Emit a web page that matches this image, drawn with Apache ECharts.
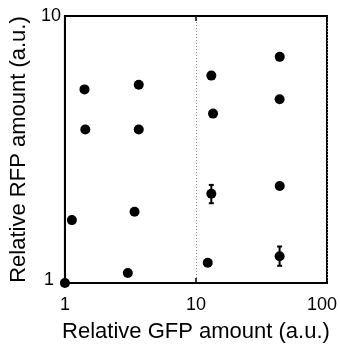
<!DOCTYPE html>
<html>
<head>
<meta charset="utf-8">
<script src="https://cdn.jsdelivr.net/npm/echarts@6/dist/echarts.min.js"></script>
<style>html,body{margin:0;padding:0;background:#fff;}#c{width:340px;height:348px;}</style>
</head>
<body>
<div id="c"></div>
<script>
// Relative GFP (x) and RFP (y) amounts
const gfp = [1.41, 3.66, 1.43, 3.66, 43.6, 13.1, 43.5, 13.5, 1.13, 3.40, 3.02, 1.00, 13.1, 43.6, 43.5, 12.3];
const rfp = [5.31, 5.53, 3.76, 3.76, 7.03, 5.98, 4.88, 4.31, 1.72, 1.85, 1.09, 1.00, 2.16, 2.31, 1.26, 1.19];
const rfpLow  = [5.31, 5.53, 3.76, 3.70, 7.03, 5.98, 4.88, 4.31, 1.72, 1.85, 1.09, 1.00, 1.99, 2.31, 1.16, 1.19];
const rfpHigh = [5.31, 5.53, 3.76, 3.82, 7.03, 5.98, 4.88, 4.31, 1.72, 1.85, 1.09, 1.00, 2.33, 2.31, 1.37, 1.19];
const xTicks = [1, 10, 100];
const yTicks = [1, 10];

const points = gfp.map((x, i) => [x, rfp[i]]);
const bars = gfp.map((x, i) => [x, rfpLow[i], rfpHigh[i]]).filter(d => d[2] - d[1] > 0.02);

const font = 'Liberation Sans, Arial, sans-serif';
const chart = echarts.init(document.getElementById('c'));
chart.setOption({
  animation: false,
  grid: {left: 63, right: 7, top: 16, bottom: 60, show: true, borderColor: '#000', borderWidth: 2, backgroundColor: 'transparent'},
  xAxis: [{
    type: 'log', logBase: 10, min: xTicks[0], max: xTicks[xTicks.length - 1],
    name: 'Relative GFP amount (a.u.)', nameLocation: 'middle', nameGap: 38,
    nameTextStyle: {fontFamily: font, fontSize: 22, color: '#000'},
    axisLine: {show: true, lineStyle: {color: '#000', width: 2}},
    axisTick: {show: true, inside: true, length: 5, lineStyle: {color: '#000', width: 1.5}},
    minorTick: {show: false},
    splitLine: {show: true, lineStyle: {type: [1, 2], color: '#888', width: 1}},
    axisLabel: {
      fontFamily: font, fontSize: 18, color: '#000', margin: 13,
      formatter: v => (v === 100 ? '{r|' + v + '}' : String(v)),
      rich: {r: {fontFamily: font, fontSize: 18, color: '#000', padding: [0, 10, 0, 0]}}
    }
  }, {
    type: 'log', logBase: 10, min: xTicks[0], max: xTicks[xTicks.length - 1], position: 'top',
    axisLine: {show: false},
    axisTick: {show: true, inside: true, length: 5, lineStyle: {color: '#000', width: 1.5}},
    axisLabel: {show: false}, splitLine: {show: false}
  }],
  yAxis: {
    type: 'log', logBase: 10, min: yTicks[0], max: yTicks[yTicks.length - 1],
    name: 'Relative RFP amount (a.u.)', nameLocation: 'middle', nameGap: 31,
    nameTextStyle: {fontFamily: font, fontSize: 22, color: '#000'},
    axisLine: {show: true, lineStyle: {color: '#000', width: 2}},
    axisTick: {show: false},
    splitLine: {show: false},
    axisLabel: {
      fontFamily: font, fontSize: 18, color: '#000', margin: 4,
      formatter: v => (v === 1 ? '{o|1}' : String(v)),
      rich: {o: {fontFamily: font, fontSize: 18, color: '#000', padding: [0, 7, 6, 0]}}
    }
  },
  series: [{
    type: 'custom', clip: false,
    renderItem: function (params, api) {
      const x = api.value(0);
      const lo = api.coord([x, api.value(1)]);
      const hi = api.coord([x, api.value(2)]);
      const cw = 2.5;
      const st = {stroke: '#000', lineWidth: 2};
      return {type: 'group', children: [
        {type: 'line', shape: {x1: lo[0], y1: lo[1], x2: hi[0], y2: hi[1]}, style: st},
        {type: 'line', shape: {x1: lo[0] - cw, y1: lo[1], x2: lo[0] + cw, y2: lo[1]}, style: st},
        {type: 'line', shape: {x1: hi[0] - cw, y1: hi[1], x2: hi[0] + cw, y2: hi[1]}, style: st}
      ]};
    },
    encode: {x: 0, y: [1, 2]},
    data: bars, z: 3
  }, {
    type: 'scatter', clip: false, symbol: 'circle', symbolSize: 10,
    itemStyle: {color: '#000', opacity: 1},
    data: points, z: 4
  }]
});
</script>
</body>
</html>
